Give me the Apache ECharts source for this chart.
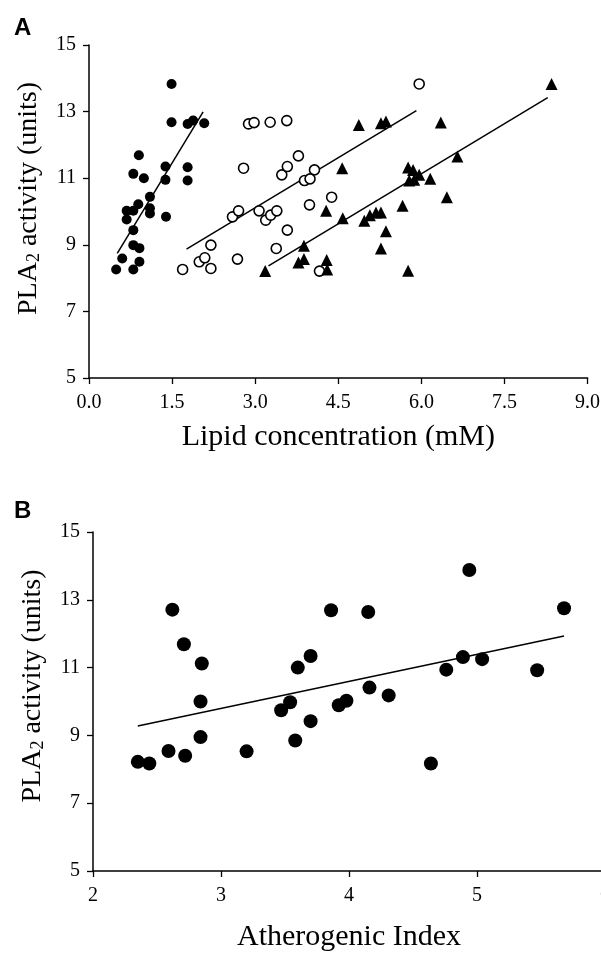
<!DOCTYPE html>
<html>
<head>
<meta charset="utf-8">
<script src="https://cdn.jsdelivr.net/npm/echarts@6/dist/echarts.min.js"></script>
<style>
html,body{margin:0;padding:0;background:#fff;}
#c{width:601px;height:956px;}
</style>
</head>
<body>
<div id="c"></div>
<script>
// Panel A: PLA2 activity vs lipid concentration (three lipid groups)
var filledA = [
  [1.49,13.83],[1.49,12.68],[1.78,12.63],[1.88,12.73],[2.08,12.65],
  [0.90,11.69],[0.80,11.13],[0.99,11.00],[1.38,11.35],[1.38,10.95],
  [1.78,11.33],[1.78,10.93],[1.10,10.44],[0.68,10.02],[0.68,9.76],
  [0.80,10.02],[0.89,10.22],[1.10,10.10],[1.10,9.94],[1.39,9.84],
  [0.80,9.44],[0.80,8.99],[0.91,8.90],[0.60,8.59],[0.49,8.26],
  [0.91,8.49],[0.80,8.26]
];
var openA = [
  [5.96,13.83],[2.88,12.63],[2.98,12.67],[3.27,12.68],[3.57,12.73],
  [2.79,11.30],[3.48,11.10],[3.58,11.35],[3.78,11.67],[4.07,11.25],
  [3.89,10.93],[3.99,10.98],[4.38,10.43],[3.98,10.20],[2.59,9.84],
  [2.70,10.02],[3.07,10.02],[3.19,9.74],[3.28,9.89],[3.39,10.02],
  [3.58,9.44],[2.20,8.99],[3.38,8.89],[1.69,8.26],[1.99,8.49],
  [2.09,8.61],[2.20,8.29],[2.68,8.57],[4.16,8.21]
];
var triA = [
  [8.35,13.83],[4.87,12.60],[5.27,12.65],[5.36,12.70],[6.35,12.67],
  [4.57,11.30],[5.76,11.32],[5.85,11.25],[5.96,11.10],[5.78,10.93],
  [5.87,10.95],[6.16,10.98],[6.65,11.65],[6.46,10.43],[4.28,10.02],
  [4.58,9.80],[4.97,9.72],[5.07,9.89],[5.18,9.97],[5.27,9.97],
  [5.66,10.17],[5.36,9.41],[5.27,8.89],[3.88,8.97],[3.78,8.47],
  [3.88,8.57],[4.29,8.54],[4.30,8.26],[3.18,8.21],[5.76,8.22]
];
var fitFilledA = [[0.51,8.74],[2.06,12.99]];
var fitOpenA = [[1.76,8.87],[5.91,13.03]];
var fitTriA = [[3.24,8.37],[8.28,13.42]];

// Panel B: PLA2 activity vs atherogenic index
var pointsB = [
  [2.35,8.22],[2.44,8.17],[2.59,8.54],[2.72,8.40],[2.84,8.95],
  [2.84,10.00],[2.85,11.12],[2.71,11.69],[2.62,12.71],[3.20,8.53],
  [3.47,9.74],[3.54,9.98],[3.58,8.85],[3.60,11.00],[3.70,11.34],
  [3.70,9.42],[3.86,12.69],[3.92,9.89],[3.98,10.02],[4.15,12.64],
  [4.16,10.41],[4.31,10.18],[4.64,8.17],[4.76,10.94],[4.89,11.31],
  [4.94,13.88],[5.04,11.25],[5.47,10.92],[5.68,12.75]
];
var fitB = [[2.35,9.28],[5.68,11.93]];

var yTicks = [5, 7, 9, 11, 13, 15];
var xTicksA = [0.0, 1.5, 3.0, 4.5, 6.0, 7.5, 9.0];
var xTicksB = [2, 3, 4, 5, 6];

var SERIF = 'Liberation Serif';
var chart = echarts.init(document.getElementById('c'), null, {renderer: 'canvas'});

function axisCommon() {
  return {
    axisLine: {show: true, onZero: false, lineStyle: {color: '#000', width: 1.5}},
    axisTick: {show: true, length: 6, lineStyle: {color: '#000', width: 1.3}},
    splitLine: {show: false},
    axisLabel: {color: '#000', fontFamily: SERIF, fontSize: 20}
  };
}
function yAxisFor(gi, shift) {
  var a = axisCommon();
  a.type = 'value'; a.gridIndex = gi;
  a.min = yTicks[0]; a.max = yTicks[yTicks.length - 1]; a.interval = 2;
  a.axisLabel.margin = 13;
  a.name = '{a|PLA}{s|2}{a| activity (units)}';
  a.nameLocation = 'middle';
  a.nameGap = 46;
  a.nameTextStyle = {
    color: '#000', fontFamily: SERIF, fontSize: 28, padding: [0, 0, 0, shift],
    rich: {
      a: {fontFamily: SERIF, fontSize: 28, color: '#000'},
      s: {fontFamily: SERIF, fontSize: 18, color: '#000', verticalAlign: 'bottom', lineHeight: 12}
    }
  };
  return a;
}
var xA = axisCommon();
xA.type = 'value'; xA.gridIndex = 0; xA.min = xTicksA[0]; xA.max = xTicksA[xTicksA.length - 1]; xA.interval = 1.5;
xA.axisLabel.margin = 15;
xA.axisLabel.formatter = function (v) { return v.toFixed(1); };
xA.name = 'Lipid concentration (mM)'; xA.nameLocation = 'middle'; xA.nameGap = 44;
xA.nameTextStyle = {color: '#000', fontFamily: SERIF, fontSize: 30};

var xB = axisCommon();
xB.type = 'value'; xB.gridIndex = 1; xB.min = xTicksB[0]; xB.max = xTicksB[xTicksB.length - 1]; xB.interval = 1;
xB.axisLabel.margin = 15;
xB.axisLabel.showMaxLabel = true;
xB.name = 'Atherogenic Index'; xB.nameLocation = 'middle'; xB.nameGap = 51;
xB.nameTextStyle = {color: '#000', fontFamily: SERIF, fontSize: 30};

function fitLine(data, xi, yi) {
  return {type: 'line', xAxisIndex: xi, yAxisIndex: yi, data: data, symbol: 'none', silent: true,
    lineStyle: {color: '#000', width: 1.5}, z: 1, animation: false};
}

chart.setOption({
  animation: false,
  backgroundColor: '#fff',
  graphic: [
    {type: 'text', left: 14, top: 16, style: {text: 'A', font: 'bold 24px "Liberation Sans"', fill: '#000'}},
    {type: 'text', left: 14, top: 499, style: {text: 'B', font: 'bold 24px "Liberation Sans"', fill: '#000'}}
  ],
  grid: [
    {left: 89, top: 45, width: 498.6, height: 333, outerBoundsMode: 'none', containLabel: false},
    {left: 93, top: 532, width: 512, height: 339, outerBoundsMode: 'none', containLabel: false}
  ],
  xAxis: [xA, xB],
  yAxis: [yAxisFor(0, 26), yAxisFor(1, 31)],
  series: [
    fitLine(fitFilledA, 0, 0),
    fitLine(fitOpenA, 0, 0),
    fitLine(fitTriA, 0, 0),
    {type: 'scatter', xAxisIndex: 0, yAxisIndex: 0, data: filledA, symbol: 'circle', symbolSize: 10,
      itemStyle: {color: '#000', opacity: 1}, z: 3},
    {type: 'scatter', xAxisIndex: 0, yAxisIndex: 0, data: openA, symbol: 'circle', symbolSize: 10,
      itemStyle: {color: '#fff', borderColor: '#000', borderWidth: 1.6, opacity: 1}, z: 3},
    {type: 'scatter', xAxisIndex: 0, yAxisIndex: 0, data: triA, symbol: 'triangle', symbolSize: 12,
      itemStyle: {color: '#000', opacity: 1}, z: 3},
    fitLine(fitB, 1, 1),
    {type: 'scatter', xAxisIndex: 1, yAxisIndex: 1, data: pointsB, symbol: 'circle', symbolSize: 14,
      itemStyle: {color: '#000', opacity: 1}, z: 3}
  ]
});
</script>
</body>
</html>
